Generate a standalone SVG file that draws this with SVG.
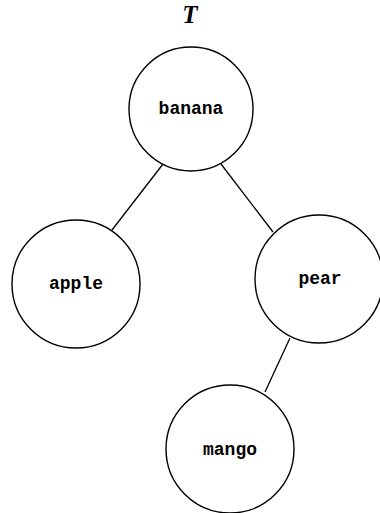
<svg xmlns="http://www.w3.org/2000/svg" width="380" height="513" viewBox="0 0 380 513">
<style>
.node circle{fill:#fff;stroke:#000;stroke-width:1.4}
.node text{font-family:"Liberation Mono",monospace;font-weight:bold;font-size:18px;text-anchor:middle;dominant-baseline:central;fill:#000}
.edges line{stroke:#000;stroke-width:1.3}
.title{font-family:"Liberation Serif",serif;font-style:italic;font-weight:bold;font-size:25px;text-anchor:middle;fill:#000}
</style>
<rect width="380" height="513" fill="#fff"/>
<text class="title" x="190" y="23">T</text>
<g class="edges">
<line x1="163" y1="164" x2="112" y2="230"/>
<line x1="221" y1="164" x2="273" y2="232"/>
<line x1="290" y1="338" x2="265" y2="392"/>
</g>
<g id="banana" class="node"><circle cx="191" cy="109" r="62"/><text x="191" y="109">banana</text></g>
<g id="apple" class="node"><circle cx="76" cy="284" r="64"/><text x="76" y="284">apple</text></g>
<g id="pear" class="node"><circle cx="319" cy="279" r="64"/><text x="320" y="279">pear</text></g>
<g id="mango" class="node"><circle cx="230" cy="449" r="64"/><text x="230" y="450">mango</text></g>
</svg>
